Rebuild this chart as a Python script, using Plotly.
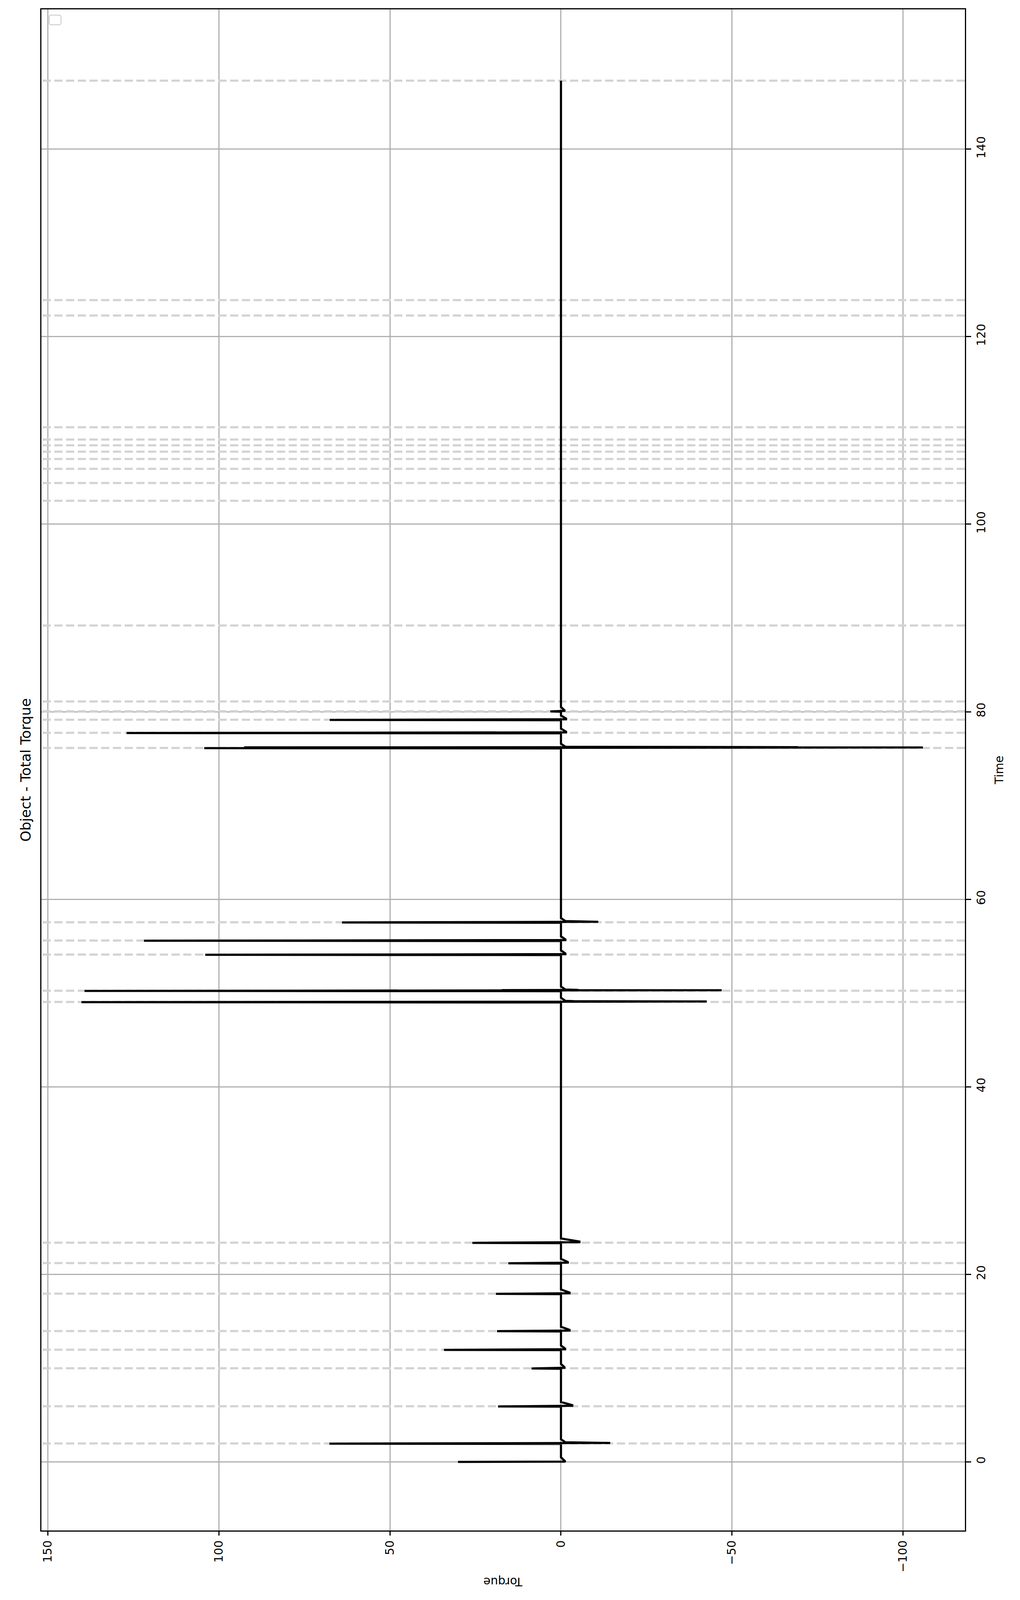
import plotly.graph_objects as go

# ---------------- data ----------------
# times (s) of the event markers (light grey dashed lines)
event_times = [1.97, 5.94, 9.99, 11.97, 13.96, 17.94, 21.2, 23.38,
               49.05, 50.25, 54.1, 55.6, 57.55,
               76.14, 77.75, 79.15, 80.05, 81.1, 89.2,
               102.5, 104.39, 105.9, 106.95, 107.73, 108.41, 109.03, 110.34,
               122.25, 123.9, 147.3]

# torque spikes: time, peak, immediate rebound, secondary peak / rebound, settling bump
spike_times   = [1.97, 5.94, 9.99, 11.97, 13.96, 17.94, 21.2, 23.38,
                 49.05, 50.25, 54.1, 55.6, 57.55, 76.14, 77.75, 79.15, 80.05]
spike_peak    = [67.7, 18.4, 8.6, 34.2, 18.7, 19.0, 15.4, 25.9,
                 140.2, 139.3, 104.0, 121.9, 64.0, 104.3, 127.0, 67.6, 3.1]
spike_trough  = [-14.4, 0.0, 0.0, 0.0, 0.0, 0.0, 0.0, 0.0,
                 -42.6, -47.0, 0.0, 0.0, -10.9, -105.8, 0.0, 0.0, 0.0]
spike_peak2   = [0.0, 0.0, 0.0, 0.0, 0.0, 0.0, 0.0, 0.0,
                 14.1, 17.3, 0.0, 0.0, 0.0, 92.6, 0.0, 0.0, 0.0]
spike_trough2 = [0.0, 0.0, 0.0, 0.0, 0.0, 0.0, 0.0, 0.0,
                 -3.8, -5.1, 0.0, 0.0, 0.0, -69.3, 0.0, 0.0, 0.0]
spike_settle  = [-1.3, -3.3, -1.0, -1.2, -2.5, -2.5, -2.0, -5.4,
                 -1.3, -1.3, -1.3, -1.3, -1.3, -1.3, -1.5, -1.5, -1.0]

start_time, start_value, start_settle = 0.0, 30.1, -1.3
end_time = 147.3

torque_ticks = [150, 100, 50, 0, -50, -100]
time_ticks = [0, 20, 40, 60, 80, 100, 120, 140]
torque_range = [151.9, -118.1]   # reversed: positive torque on the left
time_range = [-7.31, 154.9]

# ---------------- build the torque trace ----------------
t_vals = [start_time, start_time + 0.03, start_time + 0.5]
q_vals = [start_value, start_settle, 0.0]
for t, p, tr, p2, tr2, s in zip(spike_times, spike_peak, spike_trough,
                               spike_peak2, spike_trough2, spike_settle):
    t_vals += [t - 0.05, t - 0.02, t + 0.05]
    q_vals += [0.0, p, tr if tr != 0 else s]
    if p2 != 0:
        t_vals += [t + 0.06, t + 0.08]
        q_vals += [p2, tr2]
    t_vals += [t + 0.12, t + 0.45]
    q_vals += [s, 0.0]
t_vals.append(end_time)
q_vals.append(0.0)

# event marker lines spanning the whole torque range
ev_x, ev_y = [], []
for t in event_times:
    ev_x += [torque_range[1], torque_range[0], None]
    ev_y += [t, t, None]

FONT = "DejaVu Sans"

fig = go.Figure()
fig.add_trace(go.Scatter(x=ev_x, y=ev_y, mode="lines",
                         line=dict(color="#d3d3d3", width=5.5, dash="21px,9px"),
                         showlegend=False, hoverinfo="skip", connectgaps=False))
fig.add_trace(go.Scatter(x=q_vals, y=t_vals, mode="lines",
                         line=dict(color="black", width=5.5),
                         showlegend=False, hoverinfo="skip"))

axis_common = dict(showline=True, linecolor="black", linewidth=3, mirror=True,
                   ticks="outside", ticklen=13, tickwidth=3, tickcolor="black",
                   showgrid=True, gridcolor="#b0b0b0", gridwidth=2.5,
                   zeroline=False, tickangle=-90,
                   tickfont=dict(family=FONT, size=38, color="black"))

fig.update_xaxes(range=torque_range, tickvals=torque_ticks,
                 ticktext=[str(v).replace("-", "\u2212") for v in torque_ticks],
                 **axis_common)
fig.update_yaxes(range=time_range, tickvals=time_ticks, side="right",
                 **axis_common)

# rotated titles (the reference is a matplotlib figure turned 90 degrees)
fig.add_annotation(text="Object - Total Torque", xref="paper", yref="paper",
                   x=-0.0175, y=0.5, showarrow=False, textangle=-90,
                   xanchor="center", yanchor="middle",
                   font=dict(family=FONT, size=45.6, color="black"))
fig.add_annotation(text="Torque", xref="paper", yref="paper",
                   x=0.5, y=-0.0338, showarrow=False, textangle=180,
                   xanchor="center", yanchor="middle",
                   font=dict(family=FONT, size=38, color="black"))
fig.add_annotation(text="Time", xref="paper", yref="paper",
                   x=1.037, y=0.5, showarrow=False, textangle=-90,
                   xanchor="center", yanchor="middle",
                   font=dict(family=FONT, size=38, color="black"))

# empty legend frame in the top-left corner
x0, x1 = 0.0085, 0.0212
y0, y1 = 0.9899, 0.9962
rx, ry = 0.0025, 0.0012
path = (f"M {x0+rx},{y0} L {x1-rx},{y0} Q {x1},{y0} {x1},{y0+ry} "
        f"L {x1},{y1-ry} Q {x1},{y1} {x1-rx},{y1} L {x0+rx},{y1} "
        f"Q {x0},{y1} {x0},{y1-ry} L {x0},{y0+ry} Q {x0},{y0} {x0+rx},{y0} Z")
fig.add_shape(type="path", path=path, xref="paper", yref="paper",
              line=dict(color="#d0d0d0", width=2.5), fillcolor="white", layer="above")

fig.update_layout(autosize=True,
                  margin=dict(l=106, r=141, t=30, b=226),
                  plot_bgcolor="white", paper_bgcolor="white",
                  showlegend=False,
                  font=dict(family=FONT, color="black"))

# fill the browser window; keep vertical sizes proportional to the
# 2611x5203 design so the layout matches whatever height the window really has
post = """
document.body.style.margin = '0';
document.body.style.overflow = 'hidden';
var gd = document.getElementById('{plot_id}');
var f = Math.min(1, window.innerHeight / 5203);
Plotly.relayout(gd, {autosize: true,
                     'margin.t': 30 * f,
                     'margin.b': 226 * f,
                     'xaxis.ticklen': 13 * f,
                     'xaxis.tickfont.size': 38 * f,
                     'yaxis.tickfont.size': 38 * f,
                     'annotations[0].font.size': 45.6 * f,
                     'annotations[1].font.size': 38 * f,
                     'annotations[2].font.size': 38 * f});
"""

fig.write_html("out.html", default_width="100vw", default_height="100vh",
               config={"displayModeBar": False},
               post_script=post)
